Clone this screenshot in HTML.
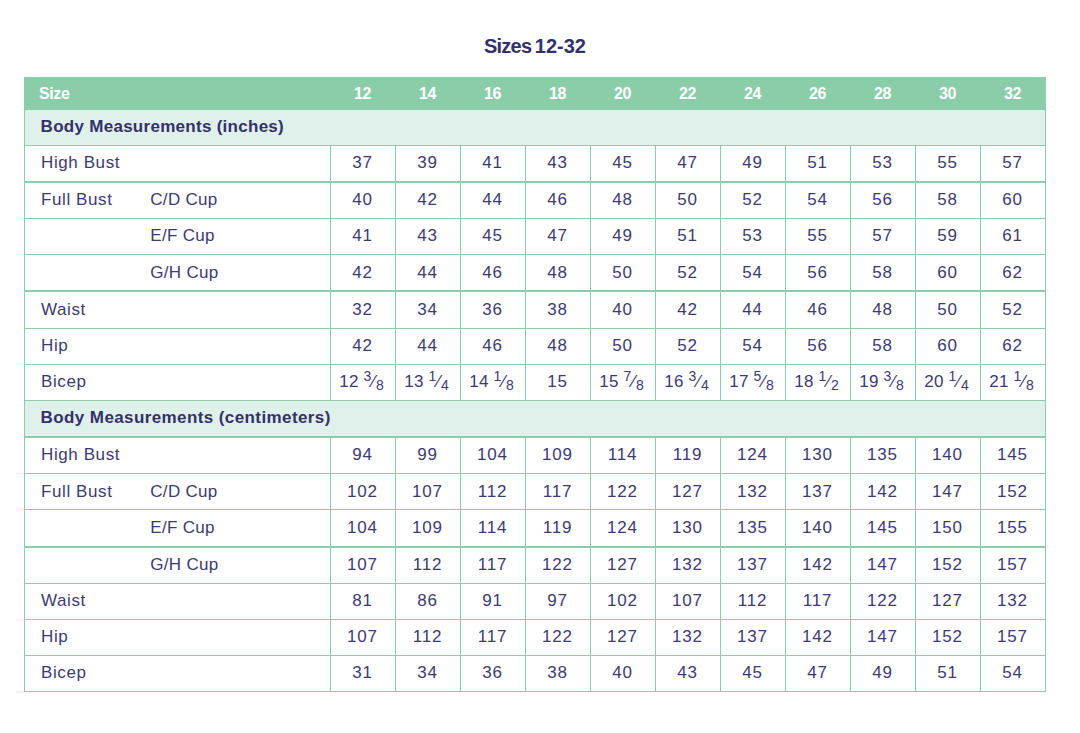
<!DOCTYPE html>
<html lang="en"><head><meta charset="utf-8"><title>Sizes 12-32</title>
<style>
*{margin:0;padding:0;box-sizing:border-box}
html,body{width:1080px;height:733px;background:#fff;overflow:hidden}
body{position:relative;font-family:"Liberation Sans", Arial, sans-serif;color:#3d3a72}
.t{position:absolute;left:0;color:#34306a;width:1070px;top:31px;text-align:center;font-weight:bold;font-size:20px;line-height:28px;padding-top:1px;word-spacing:-2px}
.hdr{position:absolute;left:24px;top:77px;width:1022px;height:33px;background:#8bcda9}
.sec{position:absolute;left:24px;width:1022px;background:#e0f1eb}
.hl{position:absolute;left:24px;width:1022px;background:#8bcda9}
.vl{position:absolute;width:1px;background:#8bcda9}
.c{position:absolute;text-align:center;white-space:nowrap;font-size:17px;letter-spacing:0.8px}
.l{position:absolute;white-space:nowrap;font-size:17px;letter-spacing:0.6px}
.h{position:absolute;text-align:center;white-space:nowrap;color:#fff;font-weight:bold;font-size:16px;letter-spacing:-0.4px;top:77px;height:33px;line-height:33px}
.s{position:absolute;left:40.6px;color:#34306a;font-weight:bold;font-size:17px;letter-spacing:0.2px;white-space:nowrap}
.f{letter-spacing:0.2px;position:relative;left:-1px}
sup,sub{font-size:14px;letter-spacing:0;line-height:0;position:relative;vertical-align:baseline}
sup{top:-6px;margin-right:1px}
sub{top:3px;margin-left:0.5px}
</style></head><body>
<div class="t"><span style="letter-spacing:-0.8px">Sizes</span> 12-32</div>
<div class="hdr"></div>

<div class="sec" style="top:110px;height:35px"></div>
<div class="sec" style="top:401px;height:35px"></div>
<div class="hl" style="top:145px;height:1px"></div>
<div class="hl" style="top:181px;height:2px"></div>
<div class="hl" style="top:218px;height:1px"></div>
<div class="hl" style="top:254px;height:1px"></div>
<div class="hl" style="top:290px;height:2px"></div>
<div class="hl" style="top:328px;height:1px"></div>
<div class="hl" style="top:364px;height:1px"></div>
<div class="hl" style="top:400px;height:1px"></div>
<div class="hl" style="top:436px;height:2px"></div>
<div class="hl" style="top:473px;height:1px"></div>
<div class="hl" style="top:509px;height:1px"></div>
<div class="hl" style="top:546px;height:2px"></div>
<div class="hl" style="top:583px;height:1px"></div>
<div class="hl" style="top:619px;height:1px"></div>
<div class="hl" style="top:655px;height:1px"></div>
<div class="hl" style="top:691px;height:1px"></div>
<div class="vl" style="left:24px;top:77px;height:615px"></div>
<div class="vl" style="left:1045px;top:77px;height:615px"></div>
<div class="vl" style="left:330px;top:145px;height:256px"></div>
<div class="vl" style="left:330px;top:436px;height:256px"></div>
<div class="vl" style="left:395px;top:145px;height:256px"></div>
<div class="vl" style="left:395px;top:436px;height:256px"></div>
<div class="vl" style="left:460px;top:145px;height:256px"></div>
<div class="vl" style="left:460px;top:436px;height:256px"></div>
<div class="vl" style="left:525px;top:145px;height:256px"></div>
<div class="vl" style="left:525px;top:436px;height:256px"></div>
<div class="vl" style="left:590px;top:145px;height:256px"></div>
<div class="vl" style="left:590px;top:436px;height:256px"></div>
<div class="vl" style="left:655px;top:145px;height:256px"></div>
<div class="vl" style="left:655px;top:436px;height:256px"></div>
<div class="vl" style="left:720px;top:145px;height:256px"></div>
<div class="vl" style="left:720px;top:436px;height:256px"></div>
<div class="vl" style="left:785px;top:145px;height:256px"></div>
<div class="vl" style="left:785px;top:436px;height:256px"></div>
<div class="vl" style="left:850px;top:145px;height:256px"></div>
<div class="vl" style="left:850px;top:436px;height:256px"></div>
<div class="vl" style="left:915px;top:145px;height:256px"></div>
<div class="vl" style="left:915px;top:436px;height:256px"></div>
<div class="vl" style="left:980px;top:145px;height:256px"></div>
<div class="vl" style="left:980px;top:436px;height:256px"></div>
<div class="h" style="left:39px;text-align:left">Size</div>
<div class="h" style="left:330px;width:65px">12</div>
<div class="h" style="left:395px;width:65px">14</div>
<div class="h" style="left:460px;width:65px">16</div>
<div class="h" style="left:525px;width:65px">18</div>
<div class="h" style="left:590px;width:65px">20</div>
<div class="h" style="left:655px;width:65px">22</div>
<div class="h" style="left:720px;width:65px">24</div>
<div class="h" style="left:785px;width:65px">26</div>
<div class="h" style="left:850px;width:65px">28</div>
<div class="h" style="left:915px;width:65px">30</div>
<div class="h" style="left:980px;width:65px">32</div>
<div class="s" style="top:109px;line-height:35px;letter-spacing:0.28px">Body Measurements (inches)</div>
<div class="s" style="top:400px;line-height:35px;letter-spacing:0.4px">Body Measurements (centimeters)</div>
<div class="l" style="left:41px;top:145px;line-height:36px">High Bust</div>
<div class="c" style="left:330px;width:65px;top:145px;line-height:36px">37</div>
<div class="c" style="left:395px;width:65px;top:145px;line-height:36px">39</div>
<div class="c" style="left:460px;width:65px;top:145px;line-height:36px">41</div>
<div class="c" style="left:525px;width:65px;top:145px;line-height:36px">43</div>
<div class="c" style="left:590px;width:65px;top:145px;line-height:36px">45</div>
<div class="c" style="left:655px;width:65px;top:145px;line-height:36px">47</div>
<div class="c" style="left:720px;width:65px;top:145px;line-height:36px">49</div>
<div class="c" style="left:785px;width:65px;top:145px;line-height:36px">51</div>
<div class="c" style="left:850px;width:65px;top:145px;line-height:36px">53</div>
<div class="c" style="left:915px;width:65px;top:145px;line-height:36px">55</div>
<div class="c" style="left:980px;width:65px;top:145px;line-height:36px">57</div>
<div class="l" style="left:41px;top:182px;line-height:36px">Full Bust</div>
<div class="l" style="left:150.3px;letter-spacing:0.3px;top:182px;line-height:36px">C/D Cup</div>
<div class="c" style="left:330px;width:65px;top:182px;line-height:36px">40</div>
<div class="c" style="left:395px;width:65px;top:182px;line-height:36px">42</div>
<div class="c" style="left:460px;width:65px;top:182px;line-height:36px">44</div>
<div class="c" style="left:525px;width:65px;top:182px;line-height:36px">46</div>
<div class="c" style="left:590px;width:65px;top:182px;line-height:36px">48</div>
<div class="c" style="left:655px;width:65px;top:182px;line-height:36px">50</div>
<div class="c" style="left:720px;width:65px;top:182px;line-height:36px">52</div>
<div class="c" style="left:785px;width:65px;top:182px;line-height:36px">54</div>
<div class="c" style="left:850px;width:65px;top:182px;line-height:36px">56</div>
<div class="c" style="left:915px;width:65px;top:182px;line-height:36px">58</div>
<div class="c" style="left:980px;width:65px;top:182px;line-height:36px">60</div>
<div class="l" style="left:150.3px;letter-spacing:0.3px;top:218px;line-height:36px">E/F Cup</div>
<div class="c" style="left:330px;width:65px;top:218px;line-height:36px">41</div>
<div class="c" style="left:395px;width:65px;top:218px;line-height:36px">43</div>
<div class="c" style="left:460px;width:65px;top:218px;line-height:36px">45</div>
<div class="c" style="left:525px;width:65px;top:218px;line-height:36px">47</div>
<div class="c" style="left:590px;width:65px;top:218px;line-height:36px">49</div>
<div class="c" style="left:655px;width:65px;top:218px;line-height:36px">51</div>
<div class="c" style="left:720px;width:65px;top:218px;line-height:36px">53</div>
<div class="c" style="left:785px;width:65px;top:218px;line-height:36px">55</div>
<div class="c" style="left:850px;width:65px;top:218px;line-height:36px">57</div>
<div class="c" style="left:915px;width:65px;top:218px;line-height:36px">59</div>
<div class="c" style="left:980px;width:65px;top:218px;line-height:36px">61</div>
<div class="l" style="left:150.3px;letter-spacing:0.3px;top:255px;line-height:35px">G/H Cup</div>
<div class="c" style="left:330px;width:65px;top:255px;line-height:35px">42</div>
<div class="c" style="left:395px;width:65px;top:255px;line-height:35px">44</div>
<div class="c" style="left:460px;width:65px;top:255px;line-height:35px">46</div>
<div class="c" style="left:525px;width:65px;top:255px;line-height:35px">48</div>
<div class="c" style="left:590px;width:65px;top:255px;line-height:35px">50</div>
<div class="c" style="left:655px;width:65px;top:255px;line-height:35px">52</div>
<div class="c" style="left:720px;width:65px;top:255px;line-height:35px">54</div>
<div class="c" style="left:785px;width:65px;top:255px;line-height:35px">56</div>
<div class="c" style="left:850px;width:65px;top:255px;line-height:35px">58</div>
<div class="c" style="left:915px;width:65px;top:255px;line-height:35px">60</div>
<div class="c" style="left:980px;width:65px;top:255px;line-height:35px">62</div>
<div class="l" style="left:41px;top:292px;line-height:36px">Waist</div>
<div class="c" style="left:330px;width:65px;top:292px;line-height:36px">32</div>
<div class="c" style="left:395px;width:65px;top:292px;line-height:36px">34</div>
<div class="c" style="left:460px;width:65px;top:292px;line-height:36px">36</div>
<div class="c" style="left:525px;width:65px;top:292px;line-height:36px">38</div>
<div class="c" style="left:590px;width:65px;top:292px;line-height:36px">40</div>
<div class="c" style="left:655px;width:65px;top:292px;line-height:36px">42</div>
<div class="c" style="left:720px;width:65px;top:292px;line-height:36px">44</div>
<div class="c" style="left:785px;width:65px;top:292px;line-height:36px">46</div>
<div class="c" style="left:850px;width:65px;top:292px;line-height:36px">48</div>
<div class="c" style="left:915px;width:65px;top:292px;line-height:36px">50</div>
<div class="c" style="left:980px;width:65px;top:292px;line-height:36px">52</div>
<div class="l" style="left:41px;top:328px;line-height:36px">Hip</div>
<div class="c" style="left:330px;width:65px;top:328px;line-height:36px">42</div>
<div class="c" style="left:395px;width:65px;top:328px;line-height:36px">44</div>
<div class="c" style="left:460px;width:65px;top:328px;line-height:36px">46</div>
<div class="c" style="left:525px;width:65px;top:328px;line-height:36px">48</div>
<div class="c" style="left:590px;width:65px;top:328px;line-height:36px">50</div>
<div class="c" style="left:655px;width:65px;top:328px;line-height:36px">52</div>
<div class="c" style="left:720px;width:65px;top:328px;line-height:36px">54</div>
<div class="c" style="left:785px;width:65px;top:328px;line-height:36px">56</div>
<div class="c" style="left:850px;width:65px;top:328px;line-height:36px">58</div>
<div class="c" style="left:915px;width:65px;top:328px;line-height:36px">60</div>
<div class="c" style="left:980px;width:65px;top:328px;line-height:36px">62</div>
<div class="l" style="left:41px;top:364px;line-height:36px">Bicep</div>
<div class="c" style="left:330px;width:65px;top:364px;line-height:36px"><span class="f">12 <sup>3</sup>&#8260;<sub>8</sub></span></div>
<div class="c" style="left:395px;width:65px;top:364px;line-height:36px"><span class="f">13 <sup>1</sup>&#8260;<sub>4</sub></span></div>
<div class="c" style="left:460px;width:65px;top:364px;line-height:36px"><span class="f">14 <sup>1</sup>&#8260;<sub>8</sub></span></div>
<div class="c" style="left:525px;width:65px;top:364px;line-height:36px">15</div>
<div class="c" style="left:590px;width:65px;top:364px;line-height:36px"><span class="f">15 <sup>7</sup>&#8260;<sub>8</sub></span></div>
<div class="c" style="left:655px;width:65px;top:364px;line-height:36px"><span class="f">16 <sup>3</sup>&#8260;<sub>4</sub></span></div>
<div class="c" style="left:720px;width:65px;top:364px;line-height:36px"><span class="f">17 <sup>5</sup>&#8260;<sub>8</sub></span></div>
<div class="c" style="left:785px;width:65px;top:364px;line-height:36px"><span class="f">18 <sup>1</sup>&#8260;<sub>2</sub></span></div>
<div class="c" style="left:850px;width:65px;top:364px;line-height:36px"><span class="f">19 <sup>3</sup>&#8260;<sub>8</sub></span></div>
<div class="c" style="left:915px;width:65px;top:364px;line-height:36px"><span class="f">20 <sup>1</sup>&#8260;<sub>4</sub></span></div>
<div class="c" style="left:980px;width:65px;top:364px;line-height:36px"><span class="f">21 <sup>1</sup>&#8260;<sub>8</sub></span></div>
<div class="l" style="left:41px;top:437px;line-height:36px">High Bust</div>
<div class="c" style="left:330px;width:65px;top:437px;line-height:36px">94</div>
<div class="c" style="left:395px;width:65px;top:437px;line-height:36px">99</div>
<div class="c" style="left:460px;width:65px;top:437px;line-height:36px">104</div>
<div class="c" style="left:525px;width:65px;top:437px;line-height:36px">109</div>
<div class="c" style="left:590px;width:65px;top:437px;line-height:36px">114</div>
<div class="c" style="left:655px;width:65px;top:437px;line-height:36px">119</div>
<div class="c" style="left:720px;width:65px;top:437px;line-height:36px">124</div>
<div class="c" style="left:785px;width:65px;top:437px;line-height:36px">130</div>
<div class="c" style="left:850px;width:65px;top:437px;line-height:36px">135</div>
<div class="c" style="left:915px;width:65px;top:437px;line-height:36px">140</div>
<div class="c" style="left:980px;width:65px;top:437px;line-height:36px">145</div>
<div class="l" style="left:41px;top:474px;line-height:35px">Full Bust</div>
<div class="l" style="left:150.3px;letter-spacing:0.3px;top:474px;line-height:35px">C/D Cup</div>
<div class="c" style="left:330px;width:65px;top:474px;line-height:35px">102</div>
<div class="c" style="left:395px;width:65px;top:474px;line-height:35px">107</div>
<div class="c" style="left:460px;width:65px;top:474px;line-height:35px">112</div>
<div class="c" style="left:525px;width:65px;top:474px;line-height:35px">117</div>
<div class="c" style="left:590px;width:65px;top:474px;line-height:35px">122</div>
<div class="c" style="left:655px;width:65px;top:474px;line-height:35px">127</div>
<div class="c" style="left:720px;width:65px;top:474px;line-height:35px">132</div>
<div class="c" style="left:785px;width:65px;top:474px;line-height:35px">137</div>
<div class="c" style="left:850px;width:65px;top:474px;line-height:35px">142</div>
<div class="c" style="left:915px;width:65px;top:474px;line-height:35px">147</div>
<div class="c" style="left:980px;width:65px;top:474px;line-height:35px">152</div>
<div class="l" style="left:150.3px;letter-spacing:0.3px;top:510px;line-height:36px">E/F Cup</div>
<div class="c" style="left:330px;width:65px;top:510px;line-height:36px">104</div>
<div class="c" style="left:395px;width:65px;top:510px;line-height:36px">109</div>
<div class="c" style="left:460px;width:65px;top:510px;line-height:36px">114</div>
<div class="c" style="left:525px;width:65px;top:510px;line-height:36px">119</div>
<div class="c" style="left:590px;width:65px;top:510px;line-height:36px">124</div>
<div class="c" style="left:655px;width:65px;top:510px;line-height:36px">130</div>
<div class="c" style="left:720px;width:65px;top:510px;line-height:36px">135</div>
<div class="c" style="left:785px;width:65px;top:510px;line-height:36px">140</div>
<div class="c" style="left:850px;width:65px;top:510px;line-height:36px">145</div>
<div class="c" style="left:915px;width:65px;top:510px;line-height:36px">150</div>
<div class="c" style="left:980px;width:65px;top:510px;line-height:36px">155</div>
<div class="l" style="left:150.3px;letter-spacing:0.3px;top:547px;line-height:36px">G/H Cup</div>
<div class="c" style="left:330px;width:65px;top:547px;line-height:36px">107</div>
<div class="c" style="left:395px;width:65px;top:547px;line-height:36px">112</div>
<div class="c" style="left:460px;width:65px;top:547px;line-height:36px">117</div>
<div class="c" style="left:525px;width:65px;top:547px;line-height:36px">122</div>
<div class="c" style="left:590px;width:65px;top:547px;line-height:36px">127</div>
<div class="c" style="left:655px;width:65px;top:547px;line-height:36px">132</div>
<div class="c" style="left:720px;width:65px;top:547px;line-height:36px">137</div>
<div class="c" style="left:785px;width:65px;top:547px;line-height:36px">142</div>
<div class="c" style="left:850px;width:65px;top:547px;line-height:36px">147</div>
<div class="c" style="left:915px;width:65px;top:547px;line-height:36px">152</div>
<div class="c" style="left:980px;width:65px;top:547px;line-height:36px">157</div>
<div class="l" style="left:41px;top:583px;line-height:36px">Waist</div>
<div class="c" style="left:330px;width:65px;top:583px;line-height:36px">81</div>
<div class="c" style="left:395px;width:65px;top:583px;line-height:36px">86</div>
<div class="c" style="left:460px;width:65px;top:583px;line-height:36px">91</div>
<div class="c" style="left:525px;width:65px;top:583px;line-height:36px">97</div>
<div class="c" style="left:590px;width:65px;top:583px;line-height:36px">102</div>
<div class="c" style="left:655px;width:65px;top:583px;line-height:36px">107</div>
<div class="c" style="left:720px;width:65px;top:583px;line-height:36px">112</div>
<div class="c" style="left:785px;width:65px;top:583px;line-height:36px">117</div>
<div class="c" style="left:850px;width:65px;top:583px;line-height:36px">122</div>
<div class="c" style="left:915px;width:65px;top:583px;line-height:36px">127</div>
<div class="c" style="left:980px;width:65px;top:583px;line-height:36px">132</div>
<div class="l" style="left:41px;top:619px;line-height:36px">Hip</div>
<div class="c" style="left:330px;width:65px;top:619px;line-height:36px">107</div>
<div class="c" style="left:395px;width:65px;top:619px;line-height:36px">112</div>
<div class="c" style="left:460px;width:65px;top:619px;line-height:36px">117</div>
<div class="c" style="left:525px;width:65px;top:619px;line-height:36px">122</div>
<div class="c" style="left:590px;width:65px;top:619px;line-height:36px">127</div>
<div class="c" style="left:655px;width:65px;top:619px;line-height:36px">132</div>
<div class="c" style="left:720px;width:65px;top:619px;line-height:36px">137</div>
<div class="c" style="left:785px;width:65px;top:619px;line-height:36px">142</div>
<div class="c" style="left:850px;width:65px;top:619px;line-height:36px">147</div>
<div class="c" style="left:915px;width:65px;top:619px;line-height:36px">152</div>
<div class="c" style="left:980px;width:65px;top:619px;line-height:36px">157</div>
<div class="l" style="left:41px;top:655px;line-height:36px">Bicep</div>
<div class="c" style="left:330px;width:65px;top:655px;line-height:36px">31</div>
<div class="c" style="left:395px;width:65px;top:655px;line-height:36px">34</div>
<div class="c" style="left:460px;width:65px;top:655px;line-height:36px">36</div>
<div class="c" style="left:525px;width:65px;top:655px;line-height:36px">38</div>
<div class="c" style="left:590px;width:65px;top:655px;line-height:36px">40</div>
<div class="c" style="left:655px;width:65px;top:655px;line-height:36px">43</div>
<div class="c" style="left:720px;width:65px;top:655px;line-height:36px">45</div>
<div class="c" style="left:785px;width:65px;top:655px;line-height:36px">47</div>
<div class="c" style="left:850px;width:65px;top:655px;line-height:36px">49</div>
<div class="c" style="left:915px;width:65px;top:655px;line-height:36px">51</div>
<div class="c" style="left:980px;width:65px;top:655px;line-height:36px">54</div>
</body></html>
